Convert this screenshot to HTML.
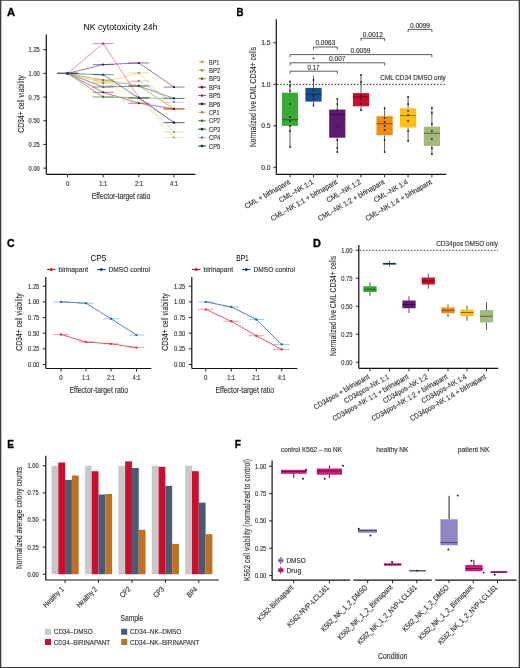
<!DOCTYPE html>
<html><head><meta charset="utf-8"><style>
html,body{margin:0;padding:0;background:#fff;}
svg{display:block;font-family:"Liberation Sans",sans-serif;filter:blur(0.3px);}
text{stroke:#333;stroke-width:0.15px;}
</style></head><body>
<svg width="520" height="668" viewBox="0 0 520 668">
<rect x="0" y="0" width="520" height="668" fill="#fff"/>
<path d="M0,0.5H520" stroke="#5e5e5e" stroke-width="1"/>
<path d="M0,667.5H520" stroke="#3a3a3a" stroke-width="1"/>
<path d="M0.5,0V668M519.5,0V668" stroke="#3a3a3a" stroke-width="1"/>
<path d="M1.5,1V667M518.5,1V667" stroke="#8a8a8a" stroke-width="1" stroke-opacity="0.5"/>
<text x="6.9" y="16.3" font-size="11.4" font-weight="bold" fill="#000" style="stroke:#000;stroke-width:0.35px" textLength="8.1" lengthAdjust="spacingAndGlyphs">A</text>
<text x="236.6" y="16.3" font-size="11.4" font-weight="bold" fill="#000" style="stroke:#000;stroke-width:0.35px" textLength="7.0" lengthAdjust="spacingAndGlyphs">B</text>
<text x="6.9" y="246.8" font-size="11.4" font-weight="bold" fill="#000" style="stroke:#000;stroke-width:0.35px" textLength="7.6" lengthAdjust="spacingAndGlyphs">C</text>
<text x="313" y="246.5" font-size="11.4" font-weight="bold" fill="#000" style="stroke:#000;stroke-width:0.35px" textLength="7.9" lengthAdjust="spacingAndGlyphs">D</text>
<text x="7.2" y="447.6" font-size="11.4" font-weight="bold" fill="#000" style="stroke:#000;stroke-width:0.35px" textLength="6.7" lengthAdjust="spacingAndGlyphs">E</text>
<text x="234.8" y="447.8" font-size="11.4" font-weight="bold" fill="#000" style="stroke:#000;stroke-width:0.35px" textLength="6.2" lengthAdjust="spacingAndGlyphs">F</text>
<text x="120.50" y="29.50" font-size="9" text-anchor="middle" textLength="74.00" lengthAdjust="spacingAndGlyphs" style="stroke-width:0">NK cytotoxicity 24h</text>
<line x1="46.30" y1="34.50" x2="46.30" y2="174.30" stroke="#111" stroke-width="1.2" />
<line x1="43.30" y1="168.10" x2="46.30" y2="168.10" stroke="#111" stroke-width="0.9" />
<text x="39.80" y="170.55" font-size="6.8" text-anchor="end" fill="#333" textLength="11.20" lengthAdjust="spacingAndGlyphs">0.00</text>
<line x1="43.30" y1="144.42" x2="46.30" y2="144.42" stroke="#111" stroke-width="0.9" />
<text x="39.80" y="146.87" font-size="6.8" text-anchor="end" fill="#333" textLength="11.20" lengthAdjust="spacingAndGlyphs">0.25</text>
<line x1="43.30" y1="120.75" x2="46.30" y2="120.75" stroke="#111" stroke-width="0.9" />
<text x="39.80" y="123.20" font-size="6.8" text-anchor="end" fill="#333" textLength="11.20" lengthAdjust="spacingAndGlyphs">0.50</text>
<line x1="43.30" y1="97.07" x2="46.30" y2="97.07" stroke="#111" stroke-width="0.9" />
<text x="39.80" y="99.52" font-size="6.8" text-anchor="end" fill="#333" textLength="11.20" lengthAdjust="spacingAndGlyphs">0.75</text>
<line x1="43.30" y1="73.40" x2="46.30" y2="73.40" stroke="#111" stroke-width="0.9" />
<text x="39.80" y="75.85" font-size="6.8" text-anchor="end" fill="#333" textLength="11.20" lengthAdjust="spacingAndGlyphs">1.00</text>
<line x1="43.30" y1="49.72" x2="46.30" y2="49.72" stroke="#111" stroke-width="0.9" />
<text x="39.80" y="52.17" font-size="6.8" text-anchor="end" fill="#333" textLength="11.20" lengthAdjust="spacingAndGlyphs">1.25</text>
<line x1="46.30" y1="174.30" x2="195.40" y2="174.30" stroke="#111" stroke-width="1.2" />
<line x1="67.60" y1="174.30" x2="67.60" y2="177.30" stroke="#111" stroke-width="0.9" />
<text x="67.60" y="186.30" font-size="6.8" text-anchor="middle" fill="#333" textLength="3.40" lengthAdjust="spacingAndGlyphs">0</text>
<line x1="103.20" y1="174.30" x2="103.20" y2="177.30" stroke="#111" stroke-width="0.9" />
<text x="103.20" y="186.30" font-size="6.8" text-anchor="middle" fill="#333" textLength="8.00" lengthAdjust="spacingAndGlyphs">1:1</text>
<line x1="138.90" y1="174.30" x2="138.90" y2="177.30" stroke="#111" stroke-width="0.9" />
<text x="138.90" y="186.30" font-size="6.8" text-anchor="middle" fill="#333" textLength="8.00" lengthAdjust="spacingAndGlyphs">2:1</text>
<line x1="174.00" y1="174.30" x2="174.00" y2="177.30" stroke="#111" stroke-width="0.9" />
<text x="174.00" y="186.30" font-size="6.8" text-anchor="middle" fill="#333" textLength="8.00" lengthAdjust="spacingAndGlyphs">4:1</text>
<text x="121.00" y="198.80" font-size="9" text-anchor="middle" fill="#333" textLength="58.50" lengthAdjust="spacingAndGlyphs">Effector-target ratio</text>
<text transform="translate(24.20,104.00) rotate(-90)" font-size="9" text-anchor="middle" fill="#333" textLength="57.50" lengthAdjust="spacingAndGlyphs">CD34+ cell viability</text>
<line x1="57.10" y1="73.40" x2="78.10" y2="73.40" stroke="#f2d98a" stroke-width="1.0" stroke-opacity="0.6"/>
<line x1="92.70" y1="83.34" x2="113.70" y2="83.34" stroke="#f2d98a" stroke-width="1.0" stroke-opacity="0.6"/>
<line x1="128.40" y1="97.55" x2="149.40" y2="97.55" stroke="#f2d98a" stroke-width="1.0" stroke-opacity="0.6"/>
<line x1="163.50" y1="137.51" x2="184.50" y2="137.51" stroke="#f2d98a" stroke-width="1.0" stroke-opacity="0.6"/>
<line x1="57.10" y1="73.40" x2="78.10" y2="73.40" stroke="#e9c24a" stroke-width="1.0" stroke-opacity="0.6"/>
<line x1="92.70" y1="82.40" x2="113.70" y2="82.40" stroke="#e9c24a" stroke-width="1.0" stroke-opacity="0.6"/>
<line x1="128.40" y1="72.93" x2="149.40" y2="72.93" stroke="#e9c24a" stroke-width="1.0" stroke-opacity="0.6"/>
<line x1="163.50" y1="108.91" x2="184.50" y2="108.91" stroke="#e9c24a" stroke-width="1.0" stroke-opacity="0.6"/>
<line x1="57.10" y1="73.40" x2="78.10" y2="73.40" stroke="#b48a1e" stroke-width="1.0" stroke-opacity="0.6"/>
<line x1="92.70" y1="80.03" x2="113.70" y2="80.03" stroke="#b48a1e" stroke-width="1.0" stroke-opacity="0.6"/>
<line x1="128.40" y1="85.71" x2="149.40" y2="85.71" stroke="#b48a1e" stroke-width="1.0" stroke-opacity="0.6"/>
<line x1="163.50" y1="108.91" x2="184.50" y2="108.91" stroke="#b48a1e" stroke-width="1.0" stroke-opacity="0.6"/>
<line x1="57.10" y1="73.40" x2="78.10" y2="73.40" stroke="#a8143c" stroke-width="1.0" stroke-opacity="0.6"/>
<line x1="92.70" y1="92.34" x2="113.70" y2="92.34" stroke="#a8143c" stroke-width="1.0" stroke-opacity="0.6"/>
<line x1="128.40" y1="103.23" x2="149.40" y2="103.23" stroke="#a8143c" stroke-width="1.0" stroke-opacity="0.6"/>
<line x1="163.50" y1="108.91" x2="184.50" y2="108.91" stroke="#a8143c" stroke-width="1.0" stroke-opacity="0.6"/>
<line x1="57.10" y1="73.40" x2="78.10" y2="73.40" stroke="#d2438a" stroke-width="1.0" stroke-opacity="0.6"/>
<line x1="92.70" y1="43.57" x2="113.70" y2="43.57" stroke="#d2438a" stroke-width="1.0" stroke-opacity="0.6"/>
<line x1="128.40" y1="97.55" x2="149.40" y2="97.55" stroke="#d2438a" stroke-width="1.0" stroke-opacity="0.6"/>
<line x1="163.50" y1="122.64" x2="184.50" y2="122.64" stroke="#d2438a" stroke-width="1.0" stroke-opacity="0.6"/>
<line x1="57.10" y1="73.40" x2="78.10" y2="73.40" stroke="#4a2270" stroke-width="1.0" stroke-opacity="0.6"/>
<line x1="92.70" y1="64.59" x2="113.70" y2="64.59" stroke="#4a2270" stroke-width="1.0" stroke-opacity="0.6"/>
<line x1="128.40" y1="62.98" x2="149.40" y2="62.98" stroke="#4a2270" stroke-width="1.0" stroke-opacity="0.6"/>
<line x1="163.50" y1="87.04" x2="184.50" y2="87.04" stroke="#4a2270" stroke-width="1.0" stroke-opacity="0.6"/>
<line x1="57.10" y1="73.40" x2="78.10" y2="73.40" stroke="#a9cf8f" stroke-width="1.0" stroke-opacity="0.6"/>
<line x1="92.70" y1="96.60" x2="113.70" y2="96.60" stroke="#a9cf8f" stroke-width="1.0" stroke-opacity="0.6"/>
<line x1="128.40" y1="97.55" x2="149.40" y2="97.55" stroke="#a9cf8f" stroke-width="1.0" stroke-opacity="0.6"/>
<line x1="163.50" y1="132.11" x2="184.50" y2="132.11" stroke="#a9cf8f" stroke-width="1.0" stroke-opacity="0.6"/>
<line x1="57.10" y1="73.40" x2="78.10" y2="73.40" stroke="#4f9e45" stroke-width="1.0" stroke-opacity="0.6"/>
<line x1="92.70" y1="97.07" x2="113.70" y2="97.07" stroke="#4f9e45" stroke-width="1.0" stroke-opacity="0.6"/>
<line x1="128.40" y1="98.02" x2="149.40" y2="98.02" stroke="#4f9e45" stroke-width="1.0" stroke-opacity="0.6"/>
<line x1="163.50" y1="98.40" x2="184.50" y2="98.40" stroke="#4f9e45" stroke-width="1.0" stroke-opacity="0.6"/>
<line x1="57.10" y1="73.40" x2="78.10" y2="73.40" stroke="#24594a" stroke-width="1.0" stroke-opacity="0.6"/>
<line x1="92.70" y1="86.94" x2="113.70" y2="86.94" stroke="#24594a" stroke-width="1.0" stroke-opacity="0.6"/>
<line x1="128.40" y1="86.09" x2="149.40" y2="86.09" stroke="#24594a" stroke-width="1.0" stroke-opacity="0.6"/>
<line x1="163.50" y1="98.40" x2="184.50" y2="98.40" stroke="#24594a" stroke-width="1.0" stroke-opacity="0.6"/>
<line x1="57.10" y1="73.40" x2="78.10" y2="73.40" stroke="#b6acd8" stroke-width="1.0" stroke-opacity="0.6"/>
<line x1="92.70" y1="86.66" x2="113.70" y2="86.66" stroke="#b6acd8" stroke-width="1.0" stroke-opacity="0.6"/>
<line x1="128.40" y1="80.98" x2="149.40" y2="80.98" stroke="#b6acd8" stroke-width="1.0" stroke-opacity="0.6"/>
<line x1="163.50" y1="102.19" x2="184.50" y2="102.19" stroke="#b6acd8" stroke-width="1.0" stroke-opacity="0.6"/>
<line x1="57.10" y1="73.40" x2="78.10" y2="73.40" stroke="#1f3f66" stroke-width="1.0" stroke-opacity="0.6"/>
<line x1="92.70" y1="74.73" x2="113.70" y2="74.73" stroke="#1f3f66" stroke-width="1.0" stroke-opacity="0.6"/>
<line x1="128.40" y1="98.02" x2="149.40" y2="98.02" stroke="#1f3f66" stroke-width="1.0" stroke-opacity="0.6"/>
<line x1="163.50" y1="122.64" x2="184.50" y2="122.64" stroke="#1f3f66" stroke-width="1.0" stroke-opacity="0.6"/>
<polyline points="67.60,73.40 103.20,83.34 138.90,97.55 174.00,137.51" fill="none" stroke="#f2d98a" stroke-width="0.7" stroke-opacity="0.85"/>
<circle cx="67.60" cy="73.40" r="1.1" fill="#ae9c63"/>
<circle cx="103.20" cy="83.34" r="1.1" fill="#ae9c63"/>
<circle cx="138.90" cy="97.55" r="1.1" fill="#ae9c63"/>
<circle cx="174.00" cy="137.51" r="1.1" fill="#ae9c63"/>
<polyline points="67.60,73.40 103.20,82.40 138.90,72.93 174.00,108.91" fill="none" stroke="#e9c24a" stroke-width="0.7" stroke-opacity="0.85"/>
<circle cx="67.60" cy="73.40" r="1.1" fill="#a78b35"/>
<circle cx="103.20" cy="82.40" r="1.1" fill="#a78b35"/>
<circle cx="138.90" cy="72.93" r="1.1" fill="#a78b35"/>
<circle cx="174.00" cy="108.91" r="1.1" fill="#a78b35"/>
<polyline points="67.60,73.40 103.20,80.03 138.90,85.71 174.00,108.91" fill="none" stroke="#b48a1e" stroke-width="0.7" stroke-opacity="0.85"/>
<circle cx="67.60" cy="73.40" r="1.1" fill="#816315"/>
<circle cx="103.20" cy="80.03" r="1.1" fill="#816315"/>
<circle cx="138.90" cy="85.71" r="1.1" fill="#816315"/>
<circle cx="174.00" cy="108.91" r="1.1" fill="#816315"/>
<polyline points="67.60,73.40 103.20,92.34 138.90,103.23 174.00,108.91" fill="none" stroke="#a8143c" stroke-width="0.7" stroke-opacity="0.85"/>
<circle cx="67.60" cy="73.40" r="1.1" fill="#780e2b"/>
<circle cx="103.20" cy="92.34" r="1.1" fill="#780e2b"/>
<circle cx="138.90" cy="103.23" r="1.1" fill="#780e2b"/>
<circle cx="174.00" cy="108.91" r="1.1" fill="#780e2b"/>
<polyline points="67.60,73.40 103.20,43.57 138.90,97.55 174.00,122.64" fill="none" stroke="#d2438a" stroke-width="0.7" stroke-opacity="0.85"/>
<circle cx="67.60" cy="73.40" r="1.1" fill="#973063"/>
<circle cx="103.20" cy="43.57" r="1.1" fill="#973063"/>
<circle cx="138.90" cy="97.55" r="1.1" fill="#973063"/>
<circle cx="174.00" cy="122.64" r="1.1" fill="#973063"/>
<polyline points="67.60,73.40 103.20,64.59 138.90,62.98 174.00,87.04" fill="none" stroke="#4a2270" stroke-width="0.7" stroke-opacity="0.85"/>
<circle cx="67.60" cy="73.40" r="1.1" fill="#351850"/>
<circle cx="103.20" cy="64.59" r="1.1" fill="#351850"/>
<circle cx="138.90" cy="62.98" r="1.1" fill="#351850"/>
<circle cx="174.00" cy="87.04" r="1.1" fill="#351850"/>
<polyline points="67.60,73.40 103.20,96.60 138.90,97.55 174.00,132.11" fill="none" stroke="#a9cf8f" stroke-width="0.7" stroke-opacity="0.85"/>
<circle cx="67.60" cy="73.40" r="1.1" fill="#799566"/>
<circle cx="103.20" cy="96.60" r="1.1" fill="#799566"/>
<circle cx="138.90" cy="97.55" r="1.1" fill="#799566"/>
<circle cx="174.00" cy="132.11" r="1.1" fill="#799566"/>
<polyline points="67.60,73.40 103.20,97.07 138.90,98.02 174.00,98.40" fill="none" stroke="#4f9e45" stroke-width="0.7" stroke-opacity="0.85"/>
<circle cx="67.60" cy="73.40" r="1.1" fill="#387131"/>
<circle cx="103.20" cy="97.07" r="1.1" fill="#387131"/>
<circle cx="138.90" cy="98.02" r="1.1" fill="#387131"/>
<circle cx="174.00" cy="98.40" r="1.1" fill="#387131"/>
<polyline points="67.60,73.40 103.20,86.94 138.90,86.09 174.00,98.40" fill="none" stroke="#24594a" stroke-width="0.7" stroke-opacity="0.85"/>
<circle cx="67.60" cy="73.40" r="1.1" fill="#194035"/>
<circle cx="103.20" cy="86.94" r="1.1" fill="#194035"/>
<circle cx="138.90" cy="86.09" r="1.1" fill="#194035"/>
<circle cx="174.00" cy="98.40" r="1.1" fill="#194035"/>
<polyline points="67.60,73.40 103.20,86.66 138.90,80.98 174.00,102.19" fill="none" stroke="#b6acd8" stroke-width="0.7" stroke-opacity="0.85"/>
<circle cx="67.60" cy="73.40" r="1.1" fill="#837b9b"/>
<circle cx="103.20" cy="86.66" r="1.1" fill="#837b9b"/>
<circle cx="138.90" cy="80.98" r="1.1" fill="#837b9b"/>
<circle cx="174.00" cy="102.19" r="1.1" fill="#837b9b"/>
<polyline points="67.60,73.40 103.20,74.73 138.90,98.02 174.00,122.64" fill="none" stroke="#1f3f66" stroke-width="0.7" stroke-opacity="0.85"/>
<circle cx="67.60" cy="73.40" r="1.1" fill="#162d49"/>
<circle cx="103.20" cy="74.73" r="1.1" fill="#162d49"/>
<circle cx="138.90" cy="98.02" r="1.1" fill="#162d49"/>
<circle cx="174.00" cy="122.64" r="1.1" fill="#162d49"/>
<line x1="198.10" y1="61.90" x2="205.90" y2="61.90" stroke="#f2d98a" stroke-width="1.1" />
<circle cx="202.00" cy="61.90" r="1.35" fill="#ae9c63"/>
<text x="209.00" y="64.50" font-size="7.4" fill="#333" textLength="10.40" lengthAdjust="spacingAndGlyphs">BP1</text>
<line x1="198.10" y1="70.31" x2="205.90" y2="70.31" stroke="#e9c24a" stroke-width="1.1" />
<circle cx="202.00" cy="70.31" r="1.35" fill="#a78b35"/>
<text x="209.00" y="72.91" font-size="7.4" fill="#333" textLength="11.20" lengthAdjust="spacingAndGlyphs">BP2</text>
<line x1="198.10" y1="78.72" x2="205.90" y2="78.72" stroke="#b48a1e" stroke-width="1.1" />
<circle cx="202.00" cy="78.72" r="1.35" fill="#816315"/>
<text x="209.00" y="81.32" font-size="7.4" fill="#333" textLength="11.20" lengthAdjust="spacingAndGlyphs">BP3</text>
<line x1="198.10" y1="87.13" x2="205.90" y2="87.13" stroke="#a8143c" stroke-width="1.1" />
<circle cx="202.00" cy="87.13" r="1.35" fill="#780e2b"/>
<text x="209.00" y="89.73" font-size="7.4" fill="#333" textLength="11.20" lengthAdjust="spacingAndGlyphs">BP4</text>
<line x1="198.10" y1="95.54" x2="205.90" y2="95.54" stroke="#d2438a" stroke-width="1.1" />
<circle cx="202.00" cy="95.54" r="1.35" fill="#973063"/>
<text x="209.00" y="98.14" font-size="7.4" fill="#333" textLength="11.20" lengthAdjust="spacingAndGlyphs">BP5</text>
<line x1="198.10" y1="103.95" x2="205.90" y2="103.95" stroke="#4a2270" stroke-width="1.1" />
<circle cx="202.00" cy="103.95" r="1.35" fill="#351850"/>
<text x="209.00" y="106.55" font-size="7.4" fill="#333" textLength="11.20" lengthAdjust="spacingAndGlyphs">BP6</text>
<line x1="198.10" y1="112.36" x2="205.90" y2="112.36" stroke="#a9cf8f" stroke-width="1.1" />
<circle cx="202.00" cy="112.36" r="1.35" fill="#799566"/>
<text x="209.00" y="114.96" font-size="7.4" fill="#333" textLength="10.40" lengthAdjust="spacingAndGlyphs">CP1</text>
<line x1="198.10" y1="120.77" x2="205.90" y2="120.77" stroke="#4f9e45" stroke-width="1.1" />
<circle cx="202.00" cy="120.77" r="1.35" fill="#387131"/>
<text x="209.00" y="123.37" font-size="7.4" fill="#333" textLength="11.20" lengthAdjust="spacingAndGlyphs">CP2</text>
<line x1="198.10" y1="129.18" x2="205.90" y2="129.18" stroke="#24594a" stroke-width="1.1" />
<circle cx="202.00" cy="129.18" r="1.35" fill="#194035"/>
<text x="209.00" y="131.78" font-size="7.4" fill="#333" textLength="11.20" lengthAdjust="spacingAndGlyphs">CP3</text>
<line x1="198.10" y1="137.59" x2="205.90" y2="137.59" stroke="#b6acd8" stroke-width="1.1" />
<circle cx="202.00" cy="137.59" r="1.35" fill="#837b9b"/>
<text x="209.00" y="140.19" font-size="7.4" fill="#333" textLength="11.20" lengthAdjust="spacingAndGlyphs">CP4</text>
<line x1="198.10" y1="146.00" x2="205.90" y2="146.00" stroke="#1f3f66" stroke-width="1.1" />
<circle cx="202.00" cy="146.00" r="1.35" fill="#162d49"/>
<text x="209.00" y="148.60" font-size="7.4" fill="#333" textLength="11.20" lengthAdjust="spacingAndGlyphs">CP5</text>
<line x1="276.30" y1="19.30" x2="276.30" y2="174.40" stroke="#111" stroke-width="1.2" />
<line x1="273.30" y1="167.30" x2="276.30" y2="167.30" stroke="#111" stroke-width="0.9" />
<text x="270.60" y="169.75" font-size="6.8" text-anchor="end" fill="#333" textLength="9.30" lengthAdjust="spacingAndGlyphs">0.0</text>
<line x1="273.30" y1="125.80" x2="276.30" y2="125.80" stroke="#111" stroke-width="0.9" />
<text x="270.60" y="128.25" font-size="6.8" text-anchor="end" fill="#333" textLength="9.30" lengthAdjust="spacingAndGlyphs">0.5</text>
<line x1="273.30" y1="84.30" x2="276.30" y2="84.30" stroke="#111" stroke-width="0.9" />
<text x="270.60" y="86.75" font-size="6.8" text-anchor="end" fill="#333" textLength="9.30" lengthAdjust="spacingAndGlyphs">1.0</text>
<line x1="273.30" y1="42.80" x2="276.30" y2="42.80" stroke="#111" stroke-width="0.9" />
<text x="270.60" y="45.25" font-size="6.8" text-anchor="end" fill="#333" textLength="9.30" lengthAdjust="spacingAndGlyphs">1.5</text>
<line x1="276.30" y1="174.40" x2="446.20" y2="174.40" stroke="#111" stroke-width="1.2" />
<line x1="290.00" y1="174.40" x2="290.00" y2="177.40" stroke="#111" stroke-width="0.9" />
<line x1="313.50" y1="174.40" x2="313.50" y2="177.40" stroke="#111" stroke-width="0.9" />
<line x1="337.30" y1="174.40" x2="337.30" y2="177.40" stroke="#111" stroke-width="0.9" />
<line x1="361.00" y1="174.40" x2="361.00" y2="177.40" stroke="#111" stroke-width="0.9" />
<line x1="384.60" y1="174.40" x2="384.60" y2="177.40" stroke="#111" stroke-width="0.9" />
<line x1="408.10" y1="174.40" x2="408.10" y2="177.40" stroke="#111" stroke-width="0.9" />
<line x1="431.90" y1="174.40" x2="431.90" y2="177.40" stroke="#111" stroke-width="0.9" />
<text transform="translate(256.20,97.00) rotate(-90)" font-size="9" text-anchor="middle" fill="#333" textLength="100.00" lengthAdjust="spacingAndGlyphs">Normalized live CML CD34+ cells</text>
<line x1="277.00" y1="84.40" x2="446.00" y2="84.40" stroke="#222" stroke-width="0.9" stroke-dasharray="1.6,1.6"/>
<text x="445.80" y="80.30" font-size="7.4" text-anchor="end" fill="#333" textLength="65.50" lengthAdjust="spacingAndGlyphs">CML CD34 DMSO only</text>
<line x1="290.00" y1="81.40" x2="290.00" y2="92.70" stroke="#333" stroke-width="0.8" />
<line x1="290.00" y1="125.90" x2="290.00" y2="147.50" stroke="#333" stroke-width="0.8" />
<rect x="281.90" y="92.70" width="16.20" height="33.20" fill="#3aa935" stroke="none" stroke-width="0" />
<line x1="281.90" y1="119.70" x2="298.10" y2="119.70" stroke="#000" stroke-width="1.1" stroke-opacity="0.4"/>
<circle cx="290.00" cy="81.50" r="0.9" fill="#222"/>
<circle cx="290.00" cy="86.00" r="0.9" fill="#222"/>
<circle cx="290.00" cy="91.00" r="0.9" fill="#222"/>
<circle cx="290.00" cy="104.00" r="0.9" fill="#222"/>
<circle cx="290.00" cy="117.00" r="0.9" fill="#222"/>
<circle cx="290.00" cy="121.00" r="0.9" fill="#222"/>
<circle cx="290.00" cy="126.00" r="0.9" fill="#222"/>
<circle cx="290.00" cy="131.00" r="0.9" fill="#222"/>
<circle cx="290.00" cy="147.00" r="0.9" fill="#222"/>
<line x1="313.50" y1="76.00" x2="313.50" y2="87.90" stroke="#333" stroke-width="0.8" />
<line x1="313.50" y1="101.60" x2="313.50" y2="105.70" stroke="#333" stroke-width="0.8" />
<rect x="305.40" y="87.90" width="16.20" height="13.70" fill="#18508e" stroke="none" stroke-width="0" />
<line x1="305.40" y1="94.40" x2="321.60" y2="94.40" stroke="#000" stroke-width="1.1" stroke-opacity="0.4"/>
<circle cx="313.50" cy="58.30" r="0.9" fill="#222"/>
<circle cx="313.50" cy="80.00" r="0.9" fill="#222"/>
<circle cx="313.50" cy="90.00" r="0.9" fill="#222"/>
<circle cx="313.50" cy="96.00" r="0.9" fill="#222"/>
<circle cx="313.50" cy="99.00" r="0.9" fill="#222"/>
<circle cx="313.50" cy="105.50" r="0.9" fill="#222"/>
<line x1="337.30" y1="98.50" x2="337.30" y2="109.60" stroke="#333" stroke-width="0.8" />
<line x1="337.30" y1="137.70" x2="337.30" y2="152.80" stroke="#333" stroke-width="0.8" />
<rect x="329.20" y="109.60" width="16.20" height="28.10" fill="#5c1a70" stroke="none" stroke-width="0" />
<line x1="329.20" y1="114.60" x2="345.40" y2="114.60" stroke="#000" stroke-width="1.1" stroke-opacity="0.4"/>
<circle cx="337.30" cy="99.00" r="0.9" fill="#222"/>
<circle cx="337.30" cy="104.00" r="0.9" fill="#222"/>
<circle cx="337.30" cy="110.00" r="0.9" fill="#222"/>
<circle cx="337.30" cy="126.00" r="0.9" fill="#222"/>
<circle cx="337.30" cy="140.00" r="0.9" fill="#222"/>
<circle cx="337.30" cy="148.00" r="0.9" fill="#222"/>
<circle cx="337.30" cy="152.00" r="0.9" fill="#222"/>
<line x1="361.00" y1="74.50" x2="361.00" y2="93.10" stroke="#333" stroke-width="0.8" />
<line x1="361.00" y1="106.30" x2="361.00" y2="110.80" stroke="#333" stroke-width="0.8" />
<rect x="352.90" y="93.10" width="16.20" height="13.20" fill="#c8102e" stroke="none" stroke-width="0" />
<line x1="352.90" y1="96.90" x2="369.10" y2="96.90" stroke="#000" stroke-width="1.1" stroke-opacity="0.4"/>
<circle cx="361.00" cy="75.00" r="0.9" fill="#222"/>
<circle cx="361.00" cy="82.00" r="0.9" fill="#222"/>
<circle cx="361.00" cy="95.00" r="0.9" fill="#222"/>
<circle cx="361.00" cy="99.00" r="0.9" fill="#222"/>
<circle cx="361.00" cy="104.00" r="0.9" fill="#222"/>
<circle cx="361.00" cy="110.00" r="0.9" fill="#222"/>
<line x1="384.60" y1="107.50" x2="384.60" y2="116.20" stroke="#333" stroke-width="0.8" />
<line x1="384.60" y1="135.20" x2="384.60" y2="152.70" stroke="#333" stroke-width="0.8" />
<rect x="376.50" y="116.20" width="16.20" height="19.00" fill="#f28a0f" stroke="none" stroke-width="0" />
<line x1="376.50" y1="123.70" x2="392.70" y2="123.70" stroke="#000" stroke-width="1.1" stroke-opacity="0.4"/>
<circle cx="384.60" cy="108.00" r="0.9" fill="#222"/>
<circle cx="384.60" cy="118.00" r="0.9" fill="#222"/>
<circle cx="384.60" cy="122.00" r="0.9" fill="#222"/>
<circle cx="384.60" cy="126.00" r="0.9" fill="#222"/>
<circle cx="384.60" cy="130.00" r="0.9" fill="#222"/>
<circle cx="384.60" cy="140.00" r="0.9" fill="#222"/>
<circle cx="384.60" cy="152.00" r="0.9" fill="#222"/>
<line x1="408.10" y1="96.30" x2="408.10" y2="108.30" stroke="#333" stroke-width="0.8" />
<line x1="408.10" y1="127.50" x2="408.10" y2="141.50" stroke="#333" stroke-width="0.8" />
<rect x="400.00" y="108.30" width="16.20" height="19.20" fill="#fdc010" stroke="none" stroke-width="0" />
<line x1="400.00" y1="115.60" x2="416.20" y2="115.60" stroke="#000" stroke-width="1.1" stroke-opacity="0.4"/>
<circle cx="408.10" cy="97.00" r="0.9" fill="#222"/>
<circle cx="408.10" cy="104.00" r="0.9" fill="#222"/>
<circle cx="408.10" cy="111.00" r="0.9" fill="#222"/>
<circle cx="408.10" cy="115.00" r="0.9" fill="#222"/>
<circle cx="408.10" cy="121.00" r="0.9" fill="#222"/>
<circle cx="408.10" cy="131.00" r="0.9" fill="#222"/>
<circle cx="408.10" cy="141.00" r="0.9" fill="#222"/>
<line x1="431.90" y1="107.00" x2="431.90" y2="126.70" stroke="#333" stroke-width="0.8" />
<line x1="431.90" y1="146.00" x2="431.90" y2="154.60" stroke="#333" stroke-width="0.8" />
<rect x="423.80" y="126.70" width="16.20" height="19.30" fill="#a4b97c" stroke="none" stroke-width="0" />
<line x1="423.80" y1="133.30" x2="440.00" y2="133.30" stroke="#000" stroke-width="1.1" stroke-opacity="0.4"/>
<circle cx="431.90" cy="108.00" r="0.9" fill="#222"/>
<circle cx="431.90" cy="113.00" r="0.9" fill="#222"/>
<circle cx="431.90" cy="124.00" r="0.9" fill="#222"/>
<circle cx="431.90" cy="131.00" r="0.9" fill="#222"/>
<circle cx="431.90" cy="139.00" r="0.9" fill="#222"/>
<circle cx="431.90" cy="148.00" r="0.9" fill="#222"/>
<circle cx="431.90" cy="154.00" r="0.9" fill="#222"/>
<path d="M313.50,49.60V47.00H337.30V49.60" fill="none" stroke="#333" stroke-width="0.8"/>
<text x="325.40" y="45.40" font-size="7" text-anchor="middle" fill="#333" textLength="20.00" lengthAdjust="spacingAndGlyphs">0.0063</text>
<path d="M290.00,57.20V54.60H431.90V57.20" fill="none" stroke="#333" stroke-width="0.8"/>
<text x="360.50" y="53.10" font-size="7" text-anchor="middle" fill="#333" textLength="20.00" lengthAdjust="spacingAndGlyphs">0.0059</text>
<path d="M290.00,65.40V62.80H384.60V65.40" fill="none" stroke="#333" stroke-width="0.8"/>
<text x="337.30" y="61.20" font-size="7" text-anchor="middle" fill="#333" textLength="16.50" lengthAdjust="spacingAndGlyphs">0.007</text>
<path d="M290.00,73.80V71.20H337.30V73.80" fill="none" stroke="#333" stroke-width="0.8"/>
<text x="313.50" y="69.60" font-size="7" text-anchor="middle" fill="#333" textLength="12.00" lengthAdjust="spacingAndGlyphs">0.17</text>
<path d="M361.00,40.90V38.30H384.60V40.90" fill="none" stroke="#333" stroke-width="0.8"/>
<text x="372.80" y="36.70" font-size="7" text-anchor="middle" fill="#333" textLength="20.00" lengthAdjust="spacingAndGlyphs">0.0012</text>
<path d="M408.10,32.00V29.40H431.90V32.00" fill="none" stroke="#333" stroke-width="0.8"/>
<text x="420.00" y="27.80" font-size="7" text-anchor="middle" fill="#333" textLength="20.00" lengthAdjust="spacingAndGlyphs">0.0099</text>
<text transform="translate(290.50,183.50) rotate(-30)" font-size="7.4" text-anchor="end" fill="#333" textLength="50.93" lengthAdjust="spacingAndGlyphs">CML + birinapant</text>
<text transform="translate(314.00,183.50) rotate(-30)" font-size="7.4" text-anchor="end" fill="#333" textLength="38.33" lengthAdjust="spacingAndGlyphs">CML–NK 1:1</text>
<text transform="translate(337.80,183.50) rotate(-30)" font-size="7.4" text-anchor="end" fill="#333" textLength="75.37" lengthAdjust="spacingAndGlyphs">CML–NK 1:1 + birinapant</text>
<text transform="translate(361.50,183.50) rotate(-30)" font-size="7.4" text-anchor="end" fill="#333" textLength="38.33" lengthAdjust="spacingAndGlyphs">CML–NK 1:2</text>
<text transform="translate(385.10,183.50) rotate(-30)" font-size="7.4" text-anchor="end" fill="#333" textLength="75.37" lengthAdjust="spacingAndGlyphs">CML–NK 1:2 + birinapant</text>
<text transform="translate(408.60,183.50) rotate(-30)" font-size="7.4" text-anchor="end" fill="#333" textLength="38.33" lengthAdjust="spacingAndGlyphs">CML–NK 1:4</text>
<text transform="translate(432.40,183.50) rotate(-30)" font-size="7.4" text-anchor="end" fill="#333" textLength="75.37" lengthAdjust="spacingAndGlyphs">CML–NK 1:4 + birinapant</text>
<text x="98.40" y="261.20" font-size="9" text-anchor="middle" textLength="15.80" lengthAdjust="spacingAndGlyphs" style="stroke-width:0">CP5</text>
<line x1="47.00" y1="269.50" x2="55.50" y2="269.50" stroke="#c8102e" stroke-width="1" />
<circle cx="51.25" cy="269.50" r="1.5" fill="#c8102e"/>
<text x="58.50" y="272.00" font-size="7.4" fill="#333" textLength="29.50" lengthAdjust="spacingAndGlyphs">birinapant</text>
<line x1="97.00" y1="269.50" x2="105.50" y2="269.50" stroke="#1c3f6b" stroke-width="1" />
<circle cx="101.25" cy="269.50" r="1.5" fill="#1c3f6b"/>
<text x="108.50" y="272.00" font-size="7.4" fill="#333" textLength="41.50" lengthAdjust="spacingAndGlyphs">DMSO control</text>
<line x1="45.80" y1="277.00" x2="45.80" y2="368.50" stroke="#111" stroke-width="1.2" />
<line x1="42.80" y1="364.50" x2="45.80" y2="364.50" stroke="#111" stroke-width="0.9" />
<text x="39.30" y="366.95" font-size="6.8" text-anchor="end" fill="#333" textLength="11.20" lengthAdjust="spacingAndGlyphs">0.00</text>
<line x1="42.80" y1="348.85" x2="45.80" y2="348.85" stroke="#111" stroke-width="0.9" />
<text x="39.30" y="351.30" font-size="6.8" text-anchor="end" fill="#333" textLength="11.20" lengthAdjust="spacingAndGlyphs">0.25</text>
<line x1="42.80" y1="333.20" x2="45.80" y2="333.20" stroke="#111" stroke-width="0.9" />
<text x="39.30" y="335.65" font-size="6.8" text-anchor="end" fill="#333" textLength="11.20" lengthAdjust="spacingAndGlyphs">0.50</text>
<line x1="42.80" y1="317.55" x2="45.80" y2="317.55" stroke="#111" stroke-width="0.9" />
<text x="39.30" y="320.00" font-size="6.8" text-anchor="end" fill="#333" textLength="11.20" lengthAdjust="spacingAndGlyphs">0.75</text>
<line x1="42.80" y1="301.90" x2="45.80" y2="301.90" stroke="#111" stroke-width="0.9" />
<text x="39.30" y="304.35" font-size="6.8" text-anchor="end" fill="#333" textLength="11.20" lengthAdjust="spacingAndGlyphs">1.00</text>
<line x1="42.80" y1="286.25" x2="45.80" y2="286.25" stroke="#111" stroke-width="0.9" />
<text x="39.30" y="288.70" font-size="6.8" text-anchor="end" fill="#333" textLength="11.20" lengthAdjust="spacingAndGlyphs">1.25</text>
<line x1="45.80" y1="368.50" x2="151.30" y2="368.50" stroke="#111" stroke-width="1.2" />
<line x1="61.00" y1="368.50" x2="61.00" y2="371.50" stroke="#111" stroke-width="0.9" />
<text x="61.00" y="380.30" font-size="6.8" text-anchor="middle" fill="#333" textLength="3.40" lengthAdjust="spacingAndGlyphs">0</text>
<line x1="86.00" y1="368.50" x2="86.00" y2="371.50" stroke="#111" stroke-width="0.9" />
<text x="86.00" y="380.30" font-size="6.8" text-anchor="middle" fill="#333" textLength="8.00" lengthAdjust="spacingAndGlyphs">1:1</text>
<line x1="111.00" y1="368.50" x2="111.00" y2="371.50" stroke="#111" stroke-width="0.9" />
<text x="111.00" y="380.30" font-size="6.8" text-anchor="middle" fill="#333" textLength="8.00" lengthAdjust="spacingAndGlyphs">2:1</text>
<line x1="136.50" y1="368.50" x2="136.50" y2="371.50" stroke="#111" stroke-width="0.9" />
<text x="136.50" y="380.30" font-size="6.8" text-anchor="middle" fill="#333" textLength="8.00" lengthAdjust="spacingAndGlyphs">4:1</text>
<text x="98.80" y="392.50" font-size="9" text-anchor="middle" fill="#333" textLength="58.50" lengthAdjust="spacingAndGlyphs">Effector-target ratio</text>
<text transform="translate(21.50,322.00) rotate(-90)" font-size="9" text-anchor="middle" fill="#333" textLength="57.50" lengthAdjust="spacingAndGlyphs">CD34+ cell viability</text>
<line x1="53.00" y1="301.90" x2="69.00" y2="301.90" stroke="#78b8d4" stroke-width="0.9" stroke-opacity="0.8"/>
<line x1="78.00" y1="303.15" x2="94.00" y2="303.15" stroke="#78b8d4" stroke-width="0.9" stroke-opacity="0.8"/>
<line x1="103.00" y1="318.80" x2="119.00" y2="318.80" stroke="#78b8d4" stroke-width="0.9" stroke-opacity="0.8"/>
<line x1="128.50" y1="335.08" x2="144.50" y2="335.08" stroke="#78b8d4" stroke-width="0.9" stroke-opacity="0.8"/>
<line x1="53.00" y1="334.45" x2="69.00" y2="334.45" stroke="#f07a92" stroke-width="0.9" stroke-opacity="0.8"/>
<line x1="78.00" y1="341.96" x2="94.00" y2="341.96" stroke="#f07a92" stroke-width="0.9" stroke-opacity="0.8"/>
<line x1="103.00" y1="343.84" x2="119.00" y2="343.84" stroke="#f07a92" stroke-width="0.9" stroke-opacity="0.8"/>
<line x1="128.50" y1="347.60" x2="144.50" y2="347.60" stroke="#f07a92" stroke-width="0.9" stroke-opacity="0.8"/>
<polyline points="61.00,301.90 86.00,303.15 111.00,318.80 136.50,335.08" fill="none" stroke="#3a6c92" stroke-width="0.85" stroke-opacity="1"/>
<circle cx="61.00" cy="301.90" r="1.2" fill="#3a6c92"/>
<circle cx="86.00" cy="303.15" r="1.2" fill="#3a6c92"/>
<circle cx="111.00" cy="318.80" r="1.2" fill="#3a6c92"/>
<circle cx="136.50" cy="335.08" r="1.2" fill="#3a6c92"/>
<polyline points="61.00,334.45 86.00,341.96 111.00,343.84 136.50,347.60" fill="none" stroke="#d63a55" stroke-width="0.85" stroke-opacity="1"/>
<circle cx="61.00" cy="334.45" r="1.2" fill="#d63a55"/>
<circle cx="86.00" cy="341.96" r="1.2" fill="#d63a55"/>
<circle cx="111.00" cy="343.84" r="1.2" fill="#d63a55"/>
<circle cx="136.50" cy="347.60" r="1.2" fill="#d63a55"/>
<text x="242.50" y="261.20" font-size="9" text-anchor="middle" textLength="12.50" lengthAdjust="spacingAndGlyphs" style="stroke-width:0">BP1</text>
<line x1="192.00" y1="269.50" x2="200.50" y2="269.50" stroke="#c8102e" stroke-width="1" />
<circle cx="196.25" cy="269.50" r="1.5" fill="#c8102e"/>
<text x="203.50" y="272.00" font-size="7.4" fill="#333" textLength="29.50" lengthAdjust="spacingAndGlyphs">birinapant</text>
<line x1="242.00" y1="269.50" x2="250.50" y2="269.50" stroke="#1c3f6b" stroke-width="1" />
<circle cx="246.25" cy="269.50" r="1.5" fill="#1c3f6b"/>
<text x="253.50" y="272.00" font-size="7.4" fill="#333" textLength="41.50" lengthAdjust="spacingAndGlyphs">DMSO control</text>
<line x1="191.80" y1="277.00" x2="191.80" y2="368.50" stroke="#111" stroke-width="1.2" />
<line x1="188.80" y1="364.50" x2="191.80" y2="364.50" stroke="#111" stroke-width="0.9" />
<text x="185.30" y="366.95" font-size="6.8" text-anchor="end" fill="#333" textLength="11.20" lengthAdjust="spacingAndGlyphs">0.00</text>
<line x1="188.80" y1="348.85" x2="191.80" y2="348.85" stroke="#111" stroke-width="0.9" />
<text x="185.30" y="351.30" font-size="6.8" text-anchor="end" fill="#333" textLength="11.20" lengthAdjust="spacingAndGlyphs">0.25</text>
<line x1="188.80" y1="333.20" x2="191.80" y2="333.20" stroke="#111" stroke-width="0.9" />
<text x="185.30" y="335.65" font-size="6.8" text-anchor="end" fill="#333" textLength="11.20" lengthAdjust="spacingAndGlyphs">0.50</text>
<line x1="188.80" y1="317.55" x2="191.80" y2="317.55" stroke="#111" stroke-width="0.9" />
<text x="185.30" y="320.00" font-size="6.8" text-anchor="end" fill="#333" textLength="11.20" lengthAdjust="spacingAndGlyphs">0.75</text>
<line x1="188.80" y1="301.90" x2="191.80" y2="301.90" stroke="#111" stroke-width="0.9" />
<text x="185.30" y="304.35" font-size="6.8" text-anchor="end" fill="#333" textLength="11.20" lengthAdjust="spacingAndGlyphs">1.00</text>
<line x1="188.80" y1="286.25" x2="191.80" y2="286.25" stroke="#111" stroke-width="0.9" />
<text x="185.30" y="288.70" font-size="6.8" text-anchor="end" fill="#333" textLength="11.20" lengthAdjust="spacingAndGlyphs">1.25</text>
<line x1="191.80" y1="368.50" x2="297.30" y2="368.50" stroke="#111" stroke-width="1.2" />
<line x1="205.80" y1="368.50" x2="205.80" y2="371.50" stroke="#111" stroke-width="0.9" />
<text x="205.80" y="380.30" font-size="6.8" text-anchor="middle" fill="#333" textLength="3.40" lengthAdjust="spacingAndGlyphs">0</text>
<line x1="231.30" y1="368.50" x2="231.30" y2="371.50" stroke="#111" stroke-width="0.9" />
<text x="231.30" y="380.30" font-size="6.8" text-anchor="middle" fill="#333" textLength="8.00" lengthAdjust="spacingAndGlyphs">1:1</text>
<line x1="256.30" y1="368.50" x2="256.30" y2="371.50" stroke="#111" stroke-width="0.9" />
<text x="256.30" y="380.30" font-size="6.8" text-anchor="middle" fill="#333" textLength="8.00" lengthAdjust="spacingAndGlyphs">2:1</text>
<line x1="281.70" y1="368.50" x2="281.70" y2="371.50" stroke="#111" stroke-width="0.9" />
<text x="281.70" y="380.30" font-size="6.8" text-anchor="middle" fill="#333" textLength="8.00" lengthAdjust="spacingAndGlyphs">4:1</text>
<text x="244.80" y="392.50" font-size="9" text-anchor="middle" fill="#333" textLength="58.50" lengthAdjust="spacingAndGlyphs">Effector-target ratio</text>
<text transform="translate(167.50,322.00) rotate(-90)" font-size="9" text-anchor="middle" fill="#333" textLength="57.50" lengthAdjust="spacingAndGlyphs">CD34+ cell viability</text>
<line x1="197.80" y1="301.90" x2="213.80" y2="301.90" stroke="#78b8d4" stroke-width="0.9" stroke-opacity="0.8"/>
<line x1="223.30" y1="306.91" x2="239.30" y2="306.91" stroke="#78b8d4" stroke-width="0.9" stroke-opacity="0.8"/>
<line x1="248.30" y1="319.43" x2="264.30" y2="319.43" stroke="#78b8d4" stroke-width="0.9" stroke-opacity="0.8"/>
<line x1="273.70" y1="344.47" x2="289.70" y2="344.47" stroke="#78b8d4" stroke-width="0.9" stroke-opacity="0.8"/>
<line x1="197.80" y1="309.41" x2="213.80" y2="309.41" stroke="#f07a92" stroke-width="0.9" stroke-opacity="0.8"/>
<line x1="223.30" y1="321.31" x2="239.30" y2="321.31" stroke="#f07a92" stroke-width="0.9" stroke-opacity="0.8"/>
<line x1="248.30" y1="335.70" x2="264.30" y2="335.70" stroke="#f07a92" stroke-width="0.9" stroke-opacity="0.8"/>
<line x1="273.70" y1="349.48" x2="289.70" y2="349.48" stroke="#f07a92" stroke-width="0.9" stroke-opacity="0.8"/>
<polyline points="205.80,301.90 231.30,306.91 256.30,319.43 281.70,344.47" fill="none" stroke="#3a6c92" stroke-width="0.85" stroke-opacity="1"/>
<circle cx="205.80" cy="301.90" r="1.2" fill="#3a6c92"/>
<circle cx="231.30" cy="306.91" r="1.2" fill="#3a6c92"/>
<circle cx="256.30" cy="319.43" r="1.2" fill="#3a6c92"/>
<circle cx="281.70" cy="344.47" r="1.2" fill="#3a6c92"/>
<polyline points="205.80,309.41 231.30,321.31 256.30,335.70 281.70,349.48" fill="none" stroke="#d63a55" stroke-width="0.85" stroke-opacity="1"/>
<circle cx="205.80" cy="309.41" r="1.2" fill="#d63a55"/>
<circle cx="231.30" cy="321.31" r="1.2" fill="#d63a55"/>
<circle cx="256.30" cy="335.70" r="1.2" fill="#d63a55"/>
<circle cx="281.70" cy="349.48" r="1.2" fill="#d63a55"/>
<line x1="358.80" y1="245.00" x2="358.80" y2="368.30" stroke="#111" stroke-width="1.2" />
<line x1="355.80" y1="362.25" x2="358.80" y2="362.25" stroke="#111" stroke-width="0.9" />
<text x="352.50" y="364.70" font-size="6.8" text-anchor="end" fill="#333" textLength="11.20" lengthAdjust="spacingAndGlyphs">0.00</text>
<line x1="355.80" y1="334.25" x2="358.80" y2="334.25" stroke="#111" stroke-width="0.9" />
<text x="352.50" y="336.70" font-size="6.8" text-anchor="end" fill="#333" textLength="11.20" lengthAdjust="spacingAndGlyphs">0.25</text>
<line x1="355.80" y1="306.25" x2="358.80" y2="306.25" stroke="#111" stroke-width="0.9" />
<text x="352.50" y="308.70" font-size="6.8" text-anchor="end" fill="#333" textLength="11.20" lengthAdjust="spacingAndGlyphs">0.50</text>
<line x1="355.80" y1="278.25" x2="358.80" y2="278.25" stroke="#111" stroke-width="0.9" />
<text x="352.50" y="280.70" font-size="6.8" text-anchor="end" fill="#333" textLength="11.20" lengthAdjust="spacingAndGlyphs">0.75</text>
<line x1="355.80" y1="250.25" x2="358.80" y2="250.25" stroke="#111" stroke-width="0.9" />
<text x="352.50" y="252.70" font-size="6.8" text-anchor="end" fill="#333" textLength="11.20" lengthAdjust="spacingAndGlyphs">1.00</text>
<line x1="358.80" y1="368.30" x2="498.20" y2="368.30" stroke="#111" stroke-width="1.2" />
<line x1="370.00" y1="368.30" x2="370.00" y2="371.30" stroke="#111" stroke-width="0.9" />
<line x1="389.50" y1="368.30" x2="389.50" y2="371.30" stroke="#111" stroke-width="0.9" />
<line x1="409.00" y1="368.30" x2="409.00" y2="371.30" stroke="#111" stroke-width="0.9" />
<line x1="428.30" y1="368.30" x2="428.30" y2="371.30" stroke="#111" stroke-width="0.9" />
<line x1="448.00" y1="368.30" x2="448.00" y2="371.30" stroke="#111" stroke-width="0.9" />
<line x1="467.00" y1="368.30" x2="467.00" y2="371.30" stroke="#111" stroke-width="0.9" />
<line x1="486.50" y1="368.30" x2="486.50" y2="371.30" stroke="#111" stroke-width="0.9" />
<text transform="translate(336.20,306.00) rotate(-90)" font-size="9" text-anchor="middle" fill="#333" textLength="100.00" lengthAdjust="spacingAndGlyphs">Normalized live CML CD34+ cells</text>
<line x1="359.50" y1="250.30" x2="498.00" y2="250.30" stroke="#222" stroke-width="0.9" stroke-dasharray="1.6,1.6"/>
<text x="498.00" y="246.30" font-size="7.4" text-anchor="end" fill="#333" textLength="61.80" lengthAdjust="spacingAndGlyphs">CD34pos DMSO only</text>
<line x1="370.00" y1="282.50" x2="370.00" y2="286.25" stroke="#222" stroke-width="0.8" />
<line x1="370.00" y1="292.00" x2="370.00" y2="295.75" stroke="#222" stroke-width="0.8" />
<rect x="363.40" y="286.25" width="13.20" height="5.75" fill="#3aa935" stroke="none" stroke-width="0" />
<line x1="363.40" y1="289.25" x2="376.60" y2="289.25" stroke="#000" stroke-width="1.0" stroke-opacity="0.45"/>
<line x1="389.50" y1="261.00" x2="389.50" y2="262.90" stroke="#222" stroke-width="0.8" />
<line x1="389.50" y1="264.60" x2="389.50" y2="266.50" stroke="#222" stroke-width="0.8" />
<rect x="382.90" y="262.90" width="13.20" height="1.70" fill="#18508e" stroke="none" stroke-width="0" />
<line x1="382.90" y1="263.75" x2="396.10" y2="263.75" stroke="#000" stroke-width="1.0" stroke-opacity="0.45"/>
<line x1="409.00" y1="296.25" x2="409.00" y2="300.50" stroke="#222" stroke-width="0.8" />
<line x1="409.00" y1="308.25" x2="409.00" y2="313.00" stroke="#222" stroke-width="0.8" />
<rect x="402.40" y="300.50" width="13.20" height="7.75" fill="#5c1a70" stroke="none" stroke-width="0" />
<line x1="402.40" y1="304.50" x2="415.60" y2="304.50" stroke="#000" stroke-width="1.0" stroke-opacity="0.45"/>
<line x1="428.30" y1="273.75" x2="428.30" y2="277.50" stroke="#222" stroke-width="0.8" />
<line x1="428.30" y1="284.50" x2="428.30" y2="288.75" stroke="#222" stroke-width="0.8" />
<rect x="421.70" y="277.50" width="13.20" height="7.00" fill="#c8102e" stroke="none" stroke-width="0" />
<line x1="421.70" y1="281.00" x2="434.90" y2="281.00" stroke="#000" stroke-width="1.0" stroke-opacity="0.45"/>
<line x1="448.00" y1="304.50" x2="448.00" y2="307.50" stroke="#222" stroke-width="0.8" />
<line x1="448.00" y1="313.25" x2="448.00" y2="317.00" stroke="#222" stroke-width="0.8" />
<rect x="441.40" y="307.50" width="13.20" height="5.75" fill="#f28a0f" stroke="none" stroke-width="0" />
<line x1="441.40" y1="310.25" x2="454.60" y2="310.25" stroke="#000" stroke-width="1.0" stroke-opacity="0.45"/>
<line x1="467.00" y1="305.50" x2="467.00" y2="309.50" stroke="#222" stroke-width="0.8" />
<line x1="467.00" y1="316.25" x2="467.00" y2="320.75" stroke="#222" stroke-width="0.8" />
<rect x="460.40" y="309.50" width="13.20" height="6.75" fill="#fdc010" stroke="none" stroke-width="0" />
<line x1="460.40" y1="312.50" x2="473.60" y2="312.50" stroke="#000" stroke-width="1.0" stroke-opacity="0.45"/>
<line x1="486.50" y1="302.50" x2="486.50" y2="310.00" stroke="#222" stroke-width="0.8" />
<line x1="486.50" y1="322.50" x2="486.50" y2="329.50" stroke="#222" stroke-width="0.8" />
<rect x="479.90" y="310.00" width="13.20" height="12.50" fill="#a4b97c" stroke="none" stroke-width="0" />
<line x1="479.90" y1="316.25" x2="493.10" y2="316.25" stroke="#000" stroke-width="1.0" stroke-opacity="0.45"/>
<text transform="translate(370.00,378.20) rotate(-30)" font-size="7.4" text-anchor="end" fill="#333" textLength="62.86" lengthAdjust="spacingAndGlyphs">CD34pos + birinapant</text>
<text transform="translate(389.50,378.20) rotate(-30)" font-size="7.4" text-anchor="end" fill="#333" textLength="50.43" lengthAdjust="spacingAndGlyphs">CD34pos–NK 1:1</text>
<text transform="translate(409.00,378.20) rotate(-30)" font-size="7.4" text-anchor="end" fill="#333" textLength="86.27" lengthAdjust="spacingAndGlyphs">CD34pos–NK 1:1 + birinapant</text>
<text transform="translate(428.30,378.20) rotate(-30)" font-size="7.4" text-anchor="end" fill="#333" textLength="50.43" lengthAdjust="spacingAndGlyphs">CD34pos–NK 1:2</text>
<text transform="translate(448.00,378.20) rotate(-30)" font-size="7.4" text-anchor="end" fill="#333" textLength="86.27" lengthAdjust="spacingAndGlyphs">CD34pos–NK 1:2 + birinapant</text>
<text transform="translate(467.00,378.20) rotate(-30)" font-size="7.4" text-anchor="end" fill="#333" textLength="50.43" lengthAdjust="spacingAndGlyphs">CD34pos–NK 1:4</text>
<text transform="translate(486.50,378.20) rotate(-30)" font-size="7.4" text-anchor="end" fill="#333" textLength="86.27" lengthAdjust="spacingAndGlyphs">CD34pos–NK 1:4 + birinapant</text>
<line x1="45.80" y1="455.80" x2="45.80" y2="580.00" stroke="#111" stroke-width="1.2" />
<line x1="42.80" y1="574.25" x2="45.80" y2="574.25" stroke="#111" stroke-width="0.9" />
<text x="38.60" y="576.70" font-size="6.8" text-anchor="end" fill="#333" textLength="11.20" lengthAdjust="spacingAndGlyphs">0.00</text>
<line x1="42.80" y1="547.12" x2="45.80" y2="547.12" stroke="#111" stroke-width="0.9" />
<text x="38.60" y="549.57" font-size="6.8" text-anchor="end" fill="#333" textLength="11.20" lengthAdjust="spacingAndGlyphs">0.25</text>
<line x1="42.80" y1="520.00" x2="45.80" y2="520.00" stroke="#111" stroke-width="0.9" />
<text x="38.60" y="522.45" font-size="6.8" text-anchor="end" fill="#333" textLength="11.20" lengthAdjust="spacingAndGlyphs">0.50</text>
<line x1="42.80" y1="492.88" x2="45.80" y2="492.88" stroke="#111" stroke-width="0.9" />
<text x="38.60" y="495.32" font-size="6.8" text-anchor="end" fill="#333" textLength="11.20" lengthAdjust="spacingAndGlyphs">0.75</text>
<line x1="42.80" y1="465.75" x2="45.80" y2="465.75" stroke="#111" stroke-width="0.9" />
<text x="38.60" y="468.20" font-size="6.8" text-anchor="end" fill="#333" textLength="11.20" lengthAdjust="spacingAndGlyphs">1.00</text>
<line x1="45.80" y1="580.00" x2="218.80" y2="580.00" stroke="#111" stroke-width="1.2" />
<line x1="65.10" y1="580.00" x2="65.10" y2="583.00" stroke="#111" stroke-width="0.9" />
<line x1="98.52" y1="580.00" x2="98.52" y2="583.00" stroke="#111" stroke-width="0.9" />
<line x1="131.94" y1="580.00" x2="131.94" y2="583.00" stroke="#111" stroke-width="0.9" />
<line x1="165.36" y1="580.00" x2="165.36" y2="583.00" stroke="#111" stroke-width="0.9" />
<line x1="198.78" y1="580.00" x2="198.78" y2="583.00" stroke="#111" stroke-width="0.9" />
<text transform="translate(22.00,518.00) rotate(-90)" font-size="9" text-anchor="middle" fill="#333" textLength="102.00" lengthAdjust="spacingAndGlyphs">Normalized average colony counts</text>
<rect x="51.50" y="465.75" width="6.80" height="108.50" fill="#c8c8cc" stroke="none" stroke-width="0" />
<rect x="58.30" y="462.50" width="6.80" height="111.75" fill="#c8102e" stroke="none" stroke-width="0" />
<rect x="65.10" y="479.86" width="6.80" height="94.39" fill="#4a5a70" stroke="none" stroke-width="0" />
<rect x="71.90" y="475.51" width="6.80" height="98.74" fill="#c0701f" stroke="none" stroke-width="0" />
<rect x="84.92" y="465.75" width="6.80" height="108.50" fill="#c8c8cc" stroke="none" stroke-width="0" />
<rect x="91.72" y="471.18" width="6.80" height="103.07" fill="#c8102e" stroke="none" stroke-width="0" />
<rect x="98.52" y="494.50" width="6.80" height="79.75" fill="#4a5a70" stroke="none" stroke-width="0" />
<rect x="105.32" y="493.96" width="6.80" height="80.29" fill="#c0701f" stroke="none" stroke-width="0" />
<rect x="118.34" y="465.75" width="6.80" height="108.50" fill="#c8c8cc" stroke="none" stroke-width="0" />
<rect x="125.14" y="461.41" width="6.80" height="112.84" fill="#c8102e" stroke="none" stroke-width="0" />
<rect x="131.94" y="467.92" width="6.80" height="106.33" fill="#4a5a70" stroke="none" stroke-width="0" />
<rect x="138.74" y="529.76" width="6.80" height="44.49" fill="#c0701f" stroke="none" stroke-width="0" />
<rect x="151.76" y="465.75" width="6.80" height="108.50" fill="#c8c8cc" stroke="none" stroke-width="0" />
<rect x="158.56" y="466.84" width="6.80" height="107.41" fill="#c8102e" stroke="none" stroke-width="0" />
<rect x="165.36" y="485.82" width="6.80" height="88.43" fill="#4a5a70" stroke="none" stroke-width="0" />
<rect x="172.16" y="543.87" width="6.80" height="30.38" fill="#c0701f" stroke="none" stroke-width="0" />
<rect x="185.18" y="465.75" width="6.80" height="108.50" fill="#c8c8cc" stroke="none" stroke-width="0" />
<rect x="191.98" y="471.18" width="6.80" height="103.07" fill="#c8102e" stroke="none" stroke-width="0" />
<rect x="198.78" y="502.64" width="6.80" height="71.61" fill="#4a5a70" stroke="none" stroke-width="0" />
<rect x="205.58" y="534.11" width="6.80" height="40.14" fill="#c0701f" stroke="none" stroke-width="0" />
<text transform="translate(64.30,589.80) rotate(-45)" font-size="7.6" text-anchor="end" fill="#333" textLength="25.85" lengthAdjust="spacingAndGlyphs">Healthy 1</text>
<text transform="translate(97.72,589.80) rotate(-45)" font-size="7.6" text-anchor="end" fill="#333" textLength="25.85" lengthAdjust="spacingAndGlyphs">Healthy 2</text>
<text transform="translate(131.14,589.80) rotate(-45)" font-size="7.6" text-anchor="end" fill="#333" textLength="11.91" lengthAdjust="spacingAndGlyphs">CP2</text>
<text transform="translate(164.56,589.80) rotate(-45)" font-size="7.6" text-anchor="end" fill="#333" textLength="11.91" lengthAdjust="spacingAndGlyphs">CP3</text>
<text transform="translate(197.98,589.80) rotate(-45)" font-size="7.6" text-anchor="end" fill="#333" textLength="11.57" lengthAdjust="spacingAndGlyphs">BP4</text>
<text x="120.50" y="620.80" font-size="8.5" fill="#333" textLength="22.80" lengthAdjust="spacingAndGlyphs">Sample</text>
<rect x="45.00" y="628.75" width="6.00" height="6.00" fill="#c8c8cc" stroke="none" stroke-width="0" />
<text x="53.80" y="634.35" font-size="7.4" fill="#333" textLength="38.80" lengthAdjust="spacingAndGlyphs">CD34–DMSO</text>
<rect x="45.00" y="639.00" width="6.00" height="6.00" fill="#c8102e" stroke="none" stroke-width="0" />
<text x="53.80" y="644.60" font-size="7.4" fill="#333" textLength="56.30" lengthAdjust="spacingAndGlyphs">CD34–BIRINAPANT</text>
<rect x="121.20" y="628.75" width="6.00" height="6.00" fill="#4a5a70" stroke="none" stroke-width="0" />
<text x="130.00" y="634.35" font-size="7.4" fill="#333" textLength="51.30" lengthAdjust="spacingAndGlyphs">CD34–NK–DMSO</text>
<rect x="121.20" y="639.00" width="6.00" height="6.00" fill="#c0701f" stroke="none" stroke-width="0" />
<text x="130.00" y="644.60" font-size="7.4" fill="#333" textLength="69.30" lengthAdjust="spacingAndGlyphs">CD34–NK–BIRINAPANT</text>
<line x1="272.10" y1="460.40" x2="272.10" y2="580.20" stroke="#111" stroke-width="1.2" />
<line x1="269.10" y1="575.60" x2="272.10" y2="575.60" stroke="#111" stroke-width="0.9" />
<text x="266.30" y="578.05" font-size="6.8" text-anchor="end" fill="#333" textLength="11.20" lengthAdjust="spacingAndGlyphs">0.00</text>
<line x1="269.10" y1="548.25" x2="272.10" y2="548.25" stroke="#111" stroke-width="0.9" />
<text x="266.30" y="550.70" font-size="6.8" text-anchor="end" fill="#333" textLength="11.20" lengthAdjust="spacingAndGlyphs">0.25</text>
<line x1="269.10" y1="520.90" x2="272.10" y2="520.90" stroke="#111" stroke-width="0.9" />
<text x="266.30" y="523.35" font-size="6.8" text-anchor="end" fill="#333" textLength="11.20" lengthAdjust="spacingAndGlyphs">0.50</text>
<line x1="269.10" y1="493.55" x2="272.10" y2="493.55" stroke="#111" stroke-width="0.9" />
<text x="266.30" y="496.00" font-size="6.8" text-anchor="end" fill="#333" textLength="11.20" lengthAdjust="spacingAndGlyphs">0.75</text>
<line x1="269.10" y1="466.20" x2="272.10" y2="466.20" stroke="#111" stroke-width="0.9" />
<text x="266.30" y="468.65" font-size="6.8" text-anchor="end" fill="#333" textLength="11.20" lengthAdjust="spacingAndGlyphs">1.00</text>
<line x1="272.10" y1="580.20" x2="350.20" y2="580.20" stroke="#111" stroke-width="1.2" />
<line x1="353.40" y1="580.20" x2="431.80" y2="580.20" stroke="#111" stroke-width="1.2" />
<line x1="435.20" y1="580.20" x2="516.50" y2="580.20" stroke="#111" stroke-width="1.2" />
<line x1="293.60" y1="580.20" x2="293.60" y2="583.20" stroke="#111" stroke-width="0.9" />
<line x1="329.40" y1="580.20" x2="329.40" y2="583.20" stroke="#111" stroke-width="0.9" />
<line x1="367.70" y1="580.20" x2="367.70" y2="583.20" stroke="#111" stroke-width="0.9" />
<line x1="392.60" y1="580.20" x2="392.60" y2="583.20" stroke="#111" stroke-width="0.9" />
<line x1="416.80" y1="580.20" x2="416.80" y2="583.20" stroke="#111" stroke-width="0.9" />
<line x1="449.00" y1="580.20" x2="449.00" y2="583.20" stroke="#111" stroke-width="0.9" />
<line x1="473.30" y1="580.20" x2="473.30" y2="583.20" stroke="#111" stroke-width="0.9" />
<line x1="497.50" y1="580.20" x2="497.50" y2="583.20" stroke="#111" stroke-width="0.9" />
<text x="311.50" y="451.50" font-size="7.4" text-anchor="middle" fill="#333" textLength="61.00" lengthAdjust="spacingAndGlyphs">control K562 – no NK</text>
<text x="392.40" y="451.50" font-size="7.4" text-anchor="middle" fill="#333" textLength="32.20" lengthAdjust="spacingAndGlyphs">healthy NK</text>
<text x="473.60" y="451.50" font-size="7.4" text-anchor="middle" fill="#333" textLength="31.80" lengthAdjust="spacingAndGlyphs">patient NK</text>
<text transform="translate(249.60,520.00) rotate(-90)" font-size="9" text-anchor="middle" fill="#333" textLength="122.00" lengthAdjust="spacingAndGlyphs">K562 cell viability (normalized to control)</text>
<text x="392.70" y="658.80" font-size="8.5" text-anchor="middle" fill="#333" textLength="29.50" lengthAdjust="spacingAndGlyphs">Condition</text>
<text transform="translate(293.90,588.00) rotate(-45)" font-size="7.6" text-anchor="end" fill="#333" textLength="47.26" lengthAdjust="spacingAndGlyphs">K562-Birinapant</text>
<text transform="translate(329.70,588.00) rotate(-45)" font-size="7.6" text-anchor="end" fill="#333" textLength="56.17" lengthAdjust="spacingAndGlyphs">K562-NVP-LCL161</text>
<text transform="translate(368.00,588.00) rotate(-45)" font-size="7.6" text-anchor="end" fill="#333" textLength="62.25" lengthAdjust="spacingAndGlyphs">K562_NK_1_2_DMSO</text>
<text transform="translate(392.90,588.00) rotate(-45)" font-size="7.6" text-anchor="end" fill="#333" textLength="73.85" lengthAdjust="spacingAndGlyphs">K562_NK_1_2_Birinapant</text>
<text transform="translate(417.10,588.00) rotate(-45)" font-size="7.6" text-anchor="end" fill="#333" textLength="80.49" lengthAdjust="spacingAndGlyphs">K562_NK_1_2_NVP-LCL161</text>
<text transform="translate(449.30,588.00) rotate(-45)" font-size="7.6" text-anchor="end" fill="#333" textLength="62.25" lengthAdjust="spacingAndGlyphs">K562_NK_1_2_DMSO</text>
<text transform="translate(473.60,588.00) rotate(-45)" font-size="7.6" text-anchor="end" fill="#333" textLength="73.85" lengthAdjust="spacingAndGlyphs">K562_NK_1_2_Birinapant</text>
<text transform="translate(497.80,588.00) rotate(-45)" font-size="7.6" text-anchor="end" fill="#333" textLength="80.49" lengthAdjust="spacingAndGlyphs">K562_NK_1_2_NVP-LCL161</text>
<line x1="293.75" y1="473.80" x2="293.75" y2="478.00" stroke="#222" stroke-width="1.0" />
<rect x="281.00" y="469.80" width="25.50" height="4.00" fill="#d0197a" stroke="none" stroke-width="0" />
<line x1="281.00" y1="471.50" x2="306.50" y2="471.50" stroke="#111" stroke-width="0.9" stroke-opacity="0.6"/>
<circle cx="303.00" cy="478.70" r="0.95" fill="#111"/>
<circle cx="306.00" cy="469.80" r="0.95" fill="#111"/>
<line x1="329.40" y1="465.80" x2="329.40" y2="468.50" stroke="#222" stroke-width="1.0" />
<line x1="329.40" y1="474.70" x2="329.40" y2="478.00" stroke="#222" stroke-width="1.0" />
<rect x="316.80" y="468.50" width="25.20" height="6.20" fill="#d0197a" stroke="none" stroke-width="0" />
<line x1="316.80" y1="471.00" x2="342.00" y2="471.00" stroke="#111" stroke-width="0.9" stroke-opacity="0.6"/>
<circle cx="343.00" cy="465.80" r="0.95" fill="#111"/>
<circle cx="324.80" cy="478.70" r="0.95" fill="#111"/>
<rect x="358.00" y="529.30" width="19.00" height="3.50" fill="#8f86c4" stroke="none" stroke-width="0" />
<line x1="358.00" y1="530.50" x2="377.00" y2="530.50" stroke="#111" stroke-width="0.9" stroke-opacity="0.6"/>
<circle cx="358.70" cy="528.70" r="0.95" fill="#111"/>
<circle cx="370.50" cy="535.50" r="0.95" fill="#111"/>
<line x1="392.65" y1="562.00" x2="392.65" y2="563.30" stroke="#222" stroke-width="1.0" />
<rect x="384.00" y="563.30" width="17.30" height="2.40" fill="#d0197a" stroke="none" stroke-width="0" />
<line x1="384.00" y1="564.50" x2="401.30" y2="564.50" stroke="#111" stroke-width="0.9" stroke-opacity="0.6"/>
<circle cx="392.00" cy="562.00" r="0.95" fill="#111"/>
<rect x="409.20" y="570.30" width="16.60" height="1.00" fill="#555" stroke="none" stroke-width="0" />
<line x1="409.20" y1="570.80" x2="425.80" y2="570.80" stroke="#111" stroke-width="0.9" stroke-opacity="0.6"/>
<circle cx="417.00" cy="570.60" r="0.95" fill="#111"/>
<line x1="449.05" y1="495.80" x2="449.05" y2="519.30" stroke="#222" stroke-width="1.0" />
<rect x="440.40" y="519.30" width="17.30" height="26.00" fill="#8f86c4" stroke="none" stroke-width="0" />
<line x1="440.40" y1="542.50" x2="457.70" y2="542.50" stroke="#111" stroke-width="0.9" stroke-opacity="0.6"/>
<circle cx="457.70" cy="495.60" r="0.95" fill="#111"/>
<circle cx="448.30" cy="549.40" r="0.95" fill="#111"/>
<line x1="473.95" y1="559.80" x2="473.95" y2="565.00" stroke="#222" stroke-width="1.0" />
<rect x="465.30" y="565.00" width="17.30" height="6.20" fill="#d0197a" stroke="none" stroke-width="0" />
<line x1="465.30" y1="568.50" x2="482.60" y2="568.50" stroke="#111" stroke-width="0.9" stroke-opacity="0.6"/>
<circle cx="471.50" cy="560.80" r="0.95" fill="#111"/>
<circle cx="483.60" cy="572.60" r="0.95" fill="#111"/>
<rect x="490.60" y="571.20" width="16.60" height="1.80" fill="#d0197a" stroke="none" stroke-width="0" />
<line x1="490.60" y1="572.00" x2="507.20" y2="572.00" stroke="#111" stroke-width="0.9" stroke-opacity="0.6"/>
<circle cx="494.70" cy="574.70" r="0.95" fill="#111"/>
<line x1="280.80" y1="556.90" x2="280.80" y2="564.10" stroke="#333" stroke-width="0.9" />
<rect x="278.20" y="558.60" width="5.20" height="3.80" fill="#8f86c4" stroke="none" stroke-width="0" />
<line x1="278.20" y1="560.50" x2="283.40" y2="560.50" stroke="#222" stroke-width="0.7" stroke-opacity="0.6"/>
<text x="286.40" y="563.20" font-size="7.4" fill="#333" textLength="19.40" lengthAdjust="spacingAndGlyphs">DMSO</text>
<line x1="280.80" y1="566.60" x2="280.80" y2="573.80" stroke="#333" stroke-width="0.9" />
<rect x="278.20" y="568.30" width="5.20" height="3.80" fill="#d0197a" stroke="none" stroke-width="0" />
<line x1="278.20" y1="570.20" x2="283.40" y2="570.20" stroke="#222" stroke-width="0.7" stroke-opacity="0.6"/>
<text x="286.40" y="572.90" font-size="7.4" fill="#333" textLength="14.80" lengthAdjust="spacingAndGlyphs">Drug</text>
</svg>
</body></html>
